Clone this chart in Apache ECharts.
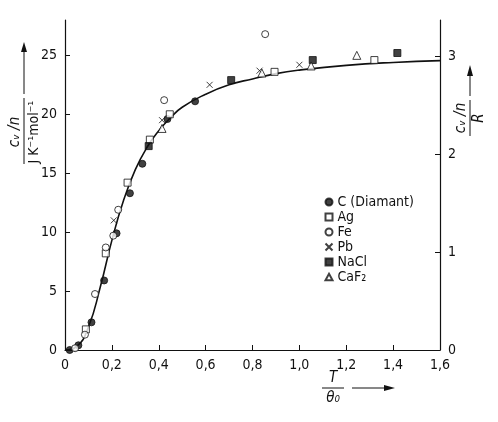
<!DOCTYPE html>
<html>
<head>
<meta charset="utf-8">
<script src="https://cdn.jsdelivr.net/npm/echarts@6/dist/echarts.min.js"></script>
<style>body{margin:0;background:#fff}#c{width:498px;height:422px}</style>
</head>
<body>
<div id="c"></div>
<script>
var curve = [[0,0],[0.05,0.3],[0.1,1.95],[0.15,5.3],[0.2,9.3],[0.25,12.7],[0.3,15.3],[0.35,17.2],[0.4,18.6],
    [0.45,19.7],[0.5,20.6],[0.6,21.7],[0.7,22.5],[0.8,23.0],[0.9,23.45],[1.0,23.75],[1.2,24.15],[1.4,24.4],[1.6,24.55]];
var cDiamant = [[0.02,0],[0.057,0.4],[0.113,2.35],[0.167,5.9],[0.22,9.9],[0.277,13.3],[0.33,15.8],[0.437,19.6],[0.555,21.1]];
var ag = [[0.089,1.75],[0.174,8.2],[0.267,14.2],[0.362,17.85],[0.447,20.0],[0.894,23.6],[1.32,24.6]];
var fe = [[0.043,0.15],[0.085,1.3],[0.128,4.75],[0.174,8.7],[0.206,9.7],[0.227,11.9],[0.423,21.2],[0.854,26.8]];
var pb = [[0.208,11.0],[0.414,19.5],[0.617,22.5],[0.83,23.7],[1.0,24.2]];
var nacl = [[0.357,17.3],[0.709,22.9],[1.057,24.6],[1.418,25.2]];
var caf2 = [[0.414,18.8],[0.84,23.5],[1.05,24.1],[1.245,25.0]];
var R = 8.314;

var chart = echarts.init(document.getElementById('c'));
var font = 'Liberation Sans Narrow, DejaVu Sans Condensed, sans-serif';
var lbl = {color: '#111', fontFamily: font, fontSize: 14};
var axisCommon = {
    axisLine: {show: true, onZero: false, lineStyle: {color: '#111', width: 1.2}},
    axisTick: {inside: true, length: 5, lineStyle: {color: '#111'}},
    splitLine: {show: false}
};
var xSym = 'path://M0,0L10,10M10,0L0,10';
var tri = 'path://M5,0L10,9L0,9Z';
function sc(name, data, symbol, size, fill) {
    return {
        name: name, type: 'scatter', data: data, symbol: symbol, symbolSize: size,
        itemStyle: {color: fill ? '#111' : '#fff', borderColor: '#111', borderWidth: 1}, z: 3
    };
}
chart.setOption({
    animation: false,
    grid: {left: 65, right: 58, top: 20, bottom: 72},
    legend: {
        orient: 'vertical', left: 318, top: 190, itemGap: 1, itemWidth: 7, itemHeight: 7,
        textStyle: {fontFamily: font, fontSize: 14, color: '#111'},
        data: ['C (Diamant)', 'Ag', 'Fe', 'Pb', 'NaCl', 'CaF\u2082']
    },
    xAxis: Object.assign({
        type: 'value', min: 0, max: 1.6, interval: 0.2,
        axisLabel: Object.assign({formatter: function (v) { return v === 0 ? '0' : v.toFixed(1).replace('.', ','); }}, lbl)
    }, axisCommon),
    yAxis: [
        Object.assign({
            type: 'value', min: 0, max: 28, interval: 5,
            axisLabel: Object.assign({showMaxLabel: false, formatter: function (v) { return v % 5 === 0 ? v : ''; }}, lbl)
        }, axisCommon),
        Object.assign({
            type: 'value', min: 0, max: 28 / R, interval: 1, position: 'right',
            axisLabel: Object.assign({showMaxLabel: false, formatter: function (v) { return Math.abs(v - Math.round(v)) < 1e-6 ? Math.round(v) : ''; }}, lbl)
        }, axisCommon)
    ],
    series: [
        {type: 'line', data: curve, smooth: true, symbol: 'none', lineStyle: {color: '#111', width: 1.6}, z: 2},
        sc('C (Diamant)', cDiamant, 'circle', 7, true),
        sc('Ag', ag, 'rect', 7, false),
        sc('Fe', fe, 'circle', 7, false),
        {name: 'Pb', type: 'scatter', data: pb, symbol: xSym, symbolSize: 6,
            itemStyle: {color: 'none', borderColor: '#111', borderWidth: 1}, z: 3},
        sc('NaCl', nacl, 'rect', 7, true),
        sc('CaF\u2082', caf2, tri, 8, false)
    ],
    graphic: [
        // left axis title
        {type: 'group', x: 22, y: 92, rotation: Math.PI / 2, children: [
            {type: 'text', x: -40, y: -14, style: {text: 'c\u1d65 /n', font: 'italic 15px ' + font, fill: '#111', textAlign: 'center'}},
            {type: 'line', shape: {x1: -72, y1: 2, x2: -6, y2: 2}, style: {stroke: '#111', lineWidth: 1}},
            {type: 'text', x: -40, y: 5, style: {text: 'J K\u207b\u00b9mol\u207b\u00b9', font: '14px ' + font, fill: '#111', textAlign: 'center'}}
        ]},
        {type: 'line', shape: {x1: 24, y1: 94, x2: 24, y2: 48}, style: {stroke: '#111', lineWidth: 1}},
        {type: 'polygon', shape: {points: [[21, 52], [27, 52], [24, 42]]}, style: {fill: '#111'}},
        // right axis title
        {type: 'group', x: 470, y: 118, rotation: Math.PI / 2, children: [
            {type: 'text', x: 0, y: -16, style: {text: 'c\u1d65 /n', font: 'italic 15px ' + font, fill: '#111', textAlign: 'center'}},
            {type: 'line', shape: {x1: -18, y1: 0, x2: 18, y2: 0}, style: {stroke: '#111', lineWidth: 1}},
            {type: 'text', x: 0, y: 2, style: {text: 'R', font: 'italic 15px ' + font, fill: '#111', textAlign: 'center'}}
        ]},
        {type: 'line', shape: {x1: 470, y1: 96, x2: 470, y2: 70}, style: {stroke: '#111', lineWidth: 1}},
        {type: 'polygon', shape: {points: [[467, 76], [473, 76], [470, 65]]}, style: {fill: '#111'}},
        // x axis title
        {type: 'text', x: 333, y: 371, style: {text: 'T', font: 'italic 15px ' + font, fill: '#111', textAlign: 'center'}},
        {type: 'line', shape: {x1: 322, y1: 388, x2: 344, y2: 388}, style: {stroke: '#111', lineWidth: 1}},
        {type: 'text', x: 333, y: 391, style: {text: '\u03b8\u2080', font: 'italic 15px ' + font, fill: '#111', textAlign: 'center'}},
        {type: 'line', shape: {x1: 352, y1: 388, x2: 390, y2: 388}, style: {stroke: '#111', lineWidth: 1}},
        {type: 'polygon', shape: {points: [[384, 385], [384, 391], [395, 388]]}, style: {fill: '#111'}}
    ]
});
</script>
</body>
</html>
